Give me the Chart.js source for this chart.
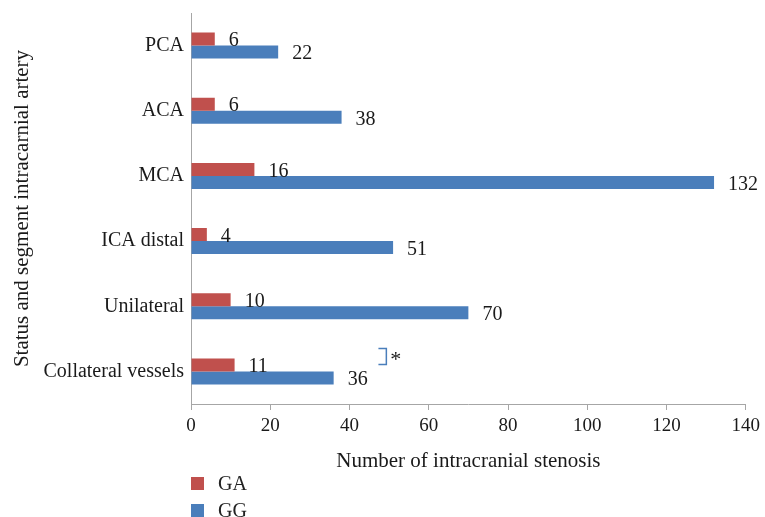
<!DOCTYPE html>
<html>
<head>
<meta charset="utf-8">
<script src="https://cdn.jsdelivr.net/npm/chart.js@4.4.0/dist/chart.umd.min.js"></script>
<style>
  body { margin: 0; background: #fff; }
  #wrap { position: relative; width: 765px; height: 517px; }
  #legend { position: absolute; left: 191px; top: 470px; font: 20px "Liberation Serif", serif; color: #222; }
  .item { display: flex; align-items: center; height: 27px; }
  .box { width: 13px; height: 13px; margin-right: 14px; }
</style>
</head>
<body>
<div id="wrap">
  <canvas id="chart" width="765" height="517"></canvas>
  <div id="legend"></div>
</div>
<script>
// Chart data
const categories = ['PCA', 'ACA', 'MCA', 'ICA distal', 'Unilateral', 'Collateral vessels'];
const gaValues = [6, 6, 16, 4, 10, 11];
const ggValues = [22, 38, 132, 51, 70, 36];
const seriesNames = ['GA', 'GG'];
const seriesColors = ['#C0504D', '#4A7EBB'];
const xMin = 0, xMax = 140, xStep = 20;

// significance mark next to collateral vessels
const markCategory = 'Collateral vessels';
const markFrom = 47.3, markTo = 49.3;
const markText = '*';

const serif = '"Liberation Serif", "Times New Roman", serif';
const axisColor = '#A6A6A6';

// Value labels at the end of each bar
const valueLabels = {
    id: 'valueLabels',
    afterDatasetsDraw(chart) {
        const ctx = chart.ctx;
        ctx.save();
        ctx.font = '20px ' + serif;
        ctx.fillStyle = '#1a1a1a';
        ctx.textAlign = 'left';
        ctx.textBaseline = 'middle';
        chart.data.datasets.forEach((ds, i) => {
            const meta = chart.getDatasetMeta(i);
            meta.data.forEach((bar, j) => {
                ctx.fillText(ds.data[j], bar.x + 14, bar.y + 2);
            });
        });
        ctx.restore();
    }
};

// Bracket with asterisk
const sigMark = {
    id: 'sigMark',
    afterDraw(chart) {
        const xs = chart.scales.x, ys = chart.scales.y;
        const x1 = xs.getPixelForValue(markFrom);
        const x2 = xs.getPixelForValue(markTo);
        const cy = ys.getPixelForValue(categories.indexOf(markCategory));
        const top = cy - 23, bottom = cy - 7;
        const ctx = chart.ctx;
        ctx.save();
        ctx.strokeStyle = seriesColors[1];
        ctx.lineWidth = 1.5;
        ctx.beginPath();
        ctx.moveTo(x1, top);
        ctx.lineTo(x2, top);
        ctx.lineTo(x2, bottom);
        ctx.lineTo(x1, bottom);
        ctx.stroke();
        ctx.font = '22px ' + serif;
        ctx.fillStyle = '#1a1a1a';
        ctx.textBaseline = 'middle';
        ctx.fillText(markText, x2 + 4, (top + bottom) / 2 + 4);
        ctx.restore();
    }
};

const chart = new Chart(document.getElementById('chart'), {
    type: 'bar',
    data: {
        labels: categories,
        datasets: [
            { label: seriesNames[0], data: gaValues, backgroundColor: seriesColors[0] },
            { label: seriesNames[1], data: ggValues, backgroundColor: seriesColors[1] }
        ]
    },
    options: {
        indexAxis: 'y',
        responsive: false,
        animation: false,
        layout: { padding: { top: 13, right: 18, bottom: 43, left: 0 } },
        datasets: { bar: { categoryPercentage: 0.4, barPercentage: 1.0 } },
        plugins: {
            legend: { display: false },
            tooltip: { enabled: false }
        },
        scales: {
            x: {
                min: xMin,
                max: xMax,
                ticks: { stepSize: xStep, color: '#1a1a1a', font: { family: serif, size: 19 }, padding: 5, maxRotation: 0 },
                grid: { drawOnChartArea: false, drawTicks: true, tickLength: 6, color: axisColor },
                border: { color: axisColor },
                title: {
                    display: true,
                    text: 'Number of intracranial stenosis',
                    color: '#1a1a1a',
                    font: { family: serif, size: 21 },
                    padding: { top: 6, bottom: 0 }
                },
                afterFit(scale) { scale.height = 70; }
            },
            y: {
                ticks: { color: '#1a1a1a', font: { family: serif, size: 20 }, padding: 7 },
                grid: { display: false, drawTicks: false },
                border: { color: axisColor },
                title: {
                    display: true,
                    text: 'Status and segment intracarnial artery',
                    color: '#1a1a1a',
                    font: { family: serif, size: 21 },
                    padding: { top: 10, bottom: 0 }
                },
                afterFit(scale) {
                    scale.width = 191;
                    scale.paddingTop = 0;
                    scale.paddingBottom = 0;
                }
            }
        }
    },
    plugins: [valueLabels, sigMark]
});

// Legend below the axis, one entry per line
const legend = document.getElementById('legend');
seriesNames.forEach((name, i) => {
    const row = document.createElement('div');
    row.className = 'item';
    row.innerHTML = '<span class="box" style="background:' + seriesColors[i] + '"></span>' + name;
    legend.appendChild(row);
});
</script>
</body>
</html>
